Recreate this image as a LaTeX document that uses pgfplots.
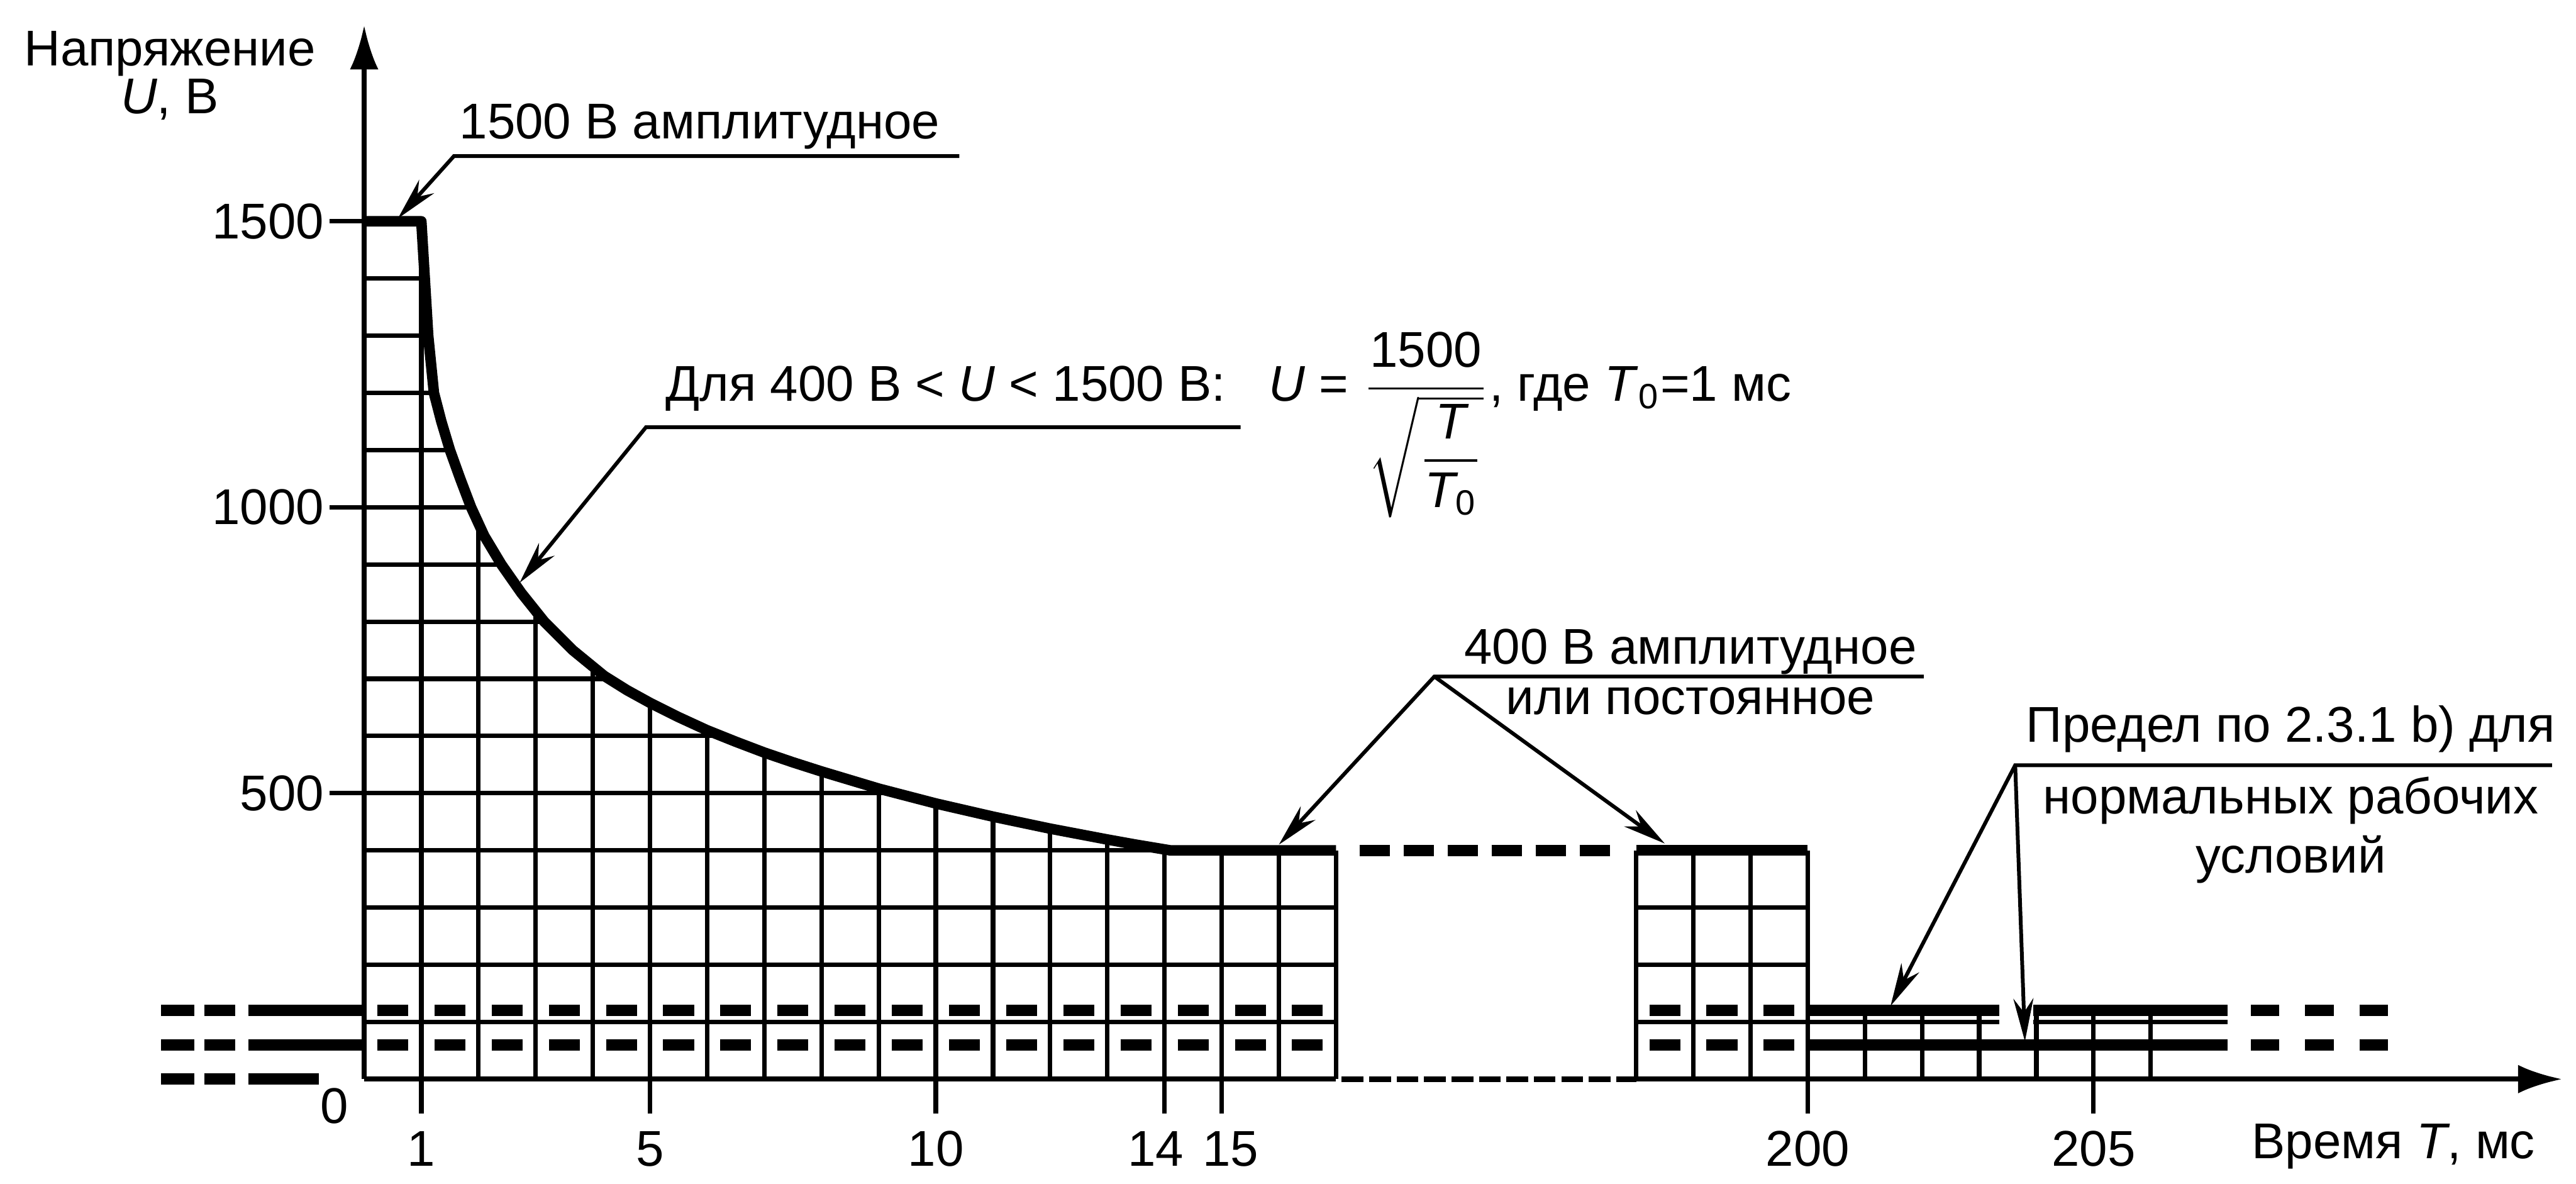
\documentclass[border=0pt]{standalone}
\usepackage{pgfplots}
\pgfplotsset{compat=1.18}
\usepackage{amsmath}
\usepackage{fontspec}
\setmainfont{Liberation Sans}
\usetikzlibrary{arrows.meta}
\newcommand{\fs}{\fontsize{10}{12}\selectfont}
\begin{document}
\begin{tikzpicture}
\begin{axis}[
  scale only axis, width=15.38cm, height=7.372cm,
  xmin=0, xmax=38.45, ymin=0, ymax=1843,
  enlargelimits=false, clip=false,
  axis lines=left,
  axis line style={line width=0.9pt},
  x axis line style={draw=none},
  y axis line style={-{Latex[length=3.1mm,width=2mm]}},
  xtick={1,5,10,14,15,25.25,30.25},
  xticklabels={1,5,10,{\hspace*{-3.5pt}14},{15\hspace*{-3.5pt}},200,205},
  ytick={500,1000,1500},
  yticklabels={500,1000,1500},
  tick align=outside,
  major tick length=0.24cm,
  tick style={line width=0.9pt, black},
  ticklabel style={font=\fs},
  yticklabel style={inner sep=1pt},
  unbounded coords=jump,
  grid/.style={line width=0.9pt, black},
  thk/.style={line width=2.1pt, black, line join=round},
  dsh/.style={line width=2.3pt, black, line cap=butt},
  lead/.style={line width=0.75pt, black},
  arr/.style={line width=0.75pt, black, -{Stealth[length=3mm,width=1.4mm]}},
]
% bounding box of the whole picture
\addplot[draw=none, forget plot] coordinates {(-6.37,-159) (38.69,1887)};

% x axis (solid, dashed gap, solid with arrow)
\addplot[line width=1pt] coordinates {(0,0) (17,0)};
\addplot[line width=1.2pt, dash pattern=on 0.152cm off 0.04cm] coordinates {(17.1,0) (22.25,0)};
\addplot[line width=1pt, -{Latex[length=3.1mm,width=2mm]}] coordinates {(22.25,0) (38.45,0)};

% block 1 grid
\addplot[grid] coordinates {
 (0,100)(17,100) (nan,nan)
 (0,200)(17,200) (nan,nan)
 (0,300)(17,300) (nan,nan)
 (0,400)(17,400) (nan,nan)
 (0,500)(9.31,500) (nan,nan)
 (0,600)(6.25,600) (nan,nan)
 (0,700)(4.28,700) (nan,nan)
 (0,800)(3.15,800) (nan,nan)
 (0,900)(2.4,900) (nan,nan)
 (0,1000)(1.87,1000) (nan,nan)
 (0,1100)(1.5,1100) (nan,nan)
 (0,1200)(1.22,1200) (nan,nan)
 (0,1300)(1.12,1300) (nan,nan)
 (0,1400)(1.06,1400) (nan,nan)
 (1,0)(1,1500) (nan,nan)
 (2,0)(2,972) (nan,nan)
 (3,0)(3,819) (nan,nan)
 (4,0)(4,721) (nan,nan)
 (5,0)(5,658) (nan,nan)
 (6,0)(6,610) (nan,nan)
 (7,0)(7,571) (nan,nan)
 (8,0)(8,538) (nan,nan)
 (9,0)(9,508) (nan,nan)
 (10,0)(10,482) (nan,nan)
 (11,0)(11,459) (nan,nan)
 (12,0)(12,438) (nan,nan)
 (13,0)(13,419) (nan,nan)
 (14,0)(14,402) (nan,nan)
 (15,0)(15,400) (nan,nan)
 (16,0)(16,400) (nan,nan)
 (17,0)(17,400)
};
% boundary curve
\addplot[thk] coordinates {
 (0,1500)(1,1500)(1.03,1450)(1.06,1400)(1.12,1300)(1.22,1200)(1.35,1150)(1.5,1100)
 (1.68,1050)(1.87,1000)(2.1,950)(2.4,900)(2.75,850)(3.15,800)(3.65,750)(4.2,705)
 (4.6,680)(5,658)(5.5,633)(6,610)(6.5,590)(7,571)(7.5,554)(8,538)(9,508)(10,482)
 (11,459)(12,438)(13,419)(13.5,410)(14.1,400)(17,400)
};
% inner dashes block 1
\addplot[dsh, dash pattern=on 0.216cm off 0.184cm] coordinates {(0.23,120) (16.77,120)};
\addplot[dsh, dash pattern=on 0.216cm off 0.184cm] coordinates {(0.23,60) (16.77,60)};
% gap: dashed 400 level
\addplot[dsh, dash pattern=on 0.212cm off 0.096cm] coordinates {(17.41,400) (21.8,400)};

% block 2
\addplot[grid] coordinates {
 (22.25,0)(22.25,400) (nan,nan)
 (23.25,0)(23.25,400) (nan,nan)
 (24.25,0)(24.25,400) (nan,nan)
 (25.25,0)(25.25,400) (nan,nan)
 (22.25,100)(25.25,100) (nan,nan)
 (22.25,200)(25.25,200) (nan,nan)
 (22.25,300)(25.25,300)
};
\addplot[thk] coordinates {(22.25,400) (25.25,400)};
\addplot[dsh, dash pattern=on 0.216cm off 0.184cm] coordinates {(22.48,120) (25.02,120)};
\addplot[dsh, dash pattern=on 0.216cm off 0.184cm] coordinates {(22.48,60) (25.02,60)};

% region 3
\addplot[grid] coordinates {
 (26.25,0)(26.25,120) (nan,nan)
 (27.25,0)(27.25,120) (nan,nan)
 (28.25,0)(28.25,120) (nan,nan)
 (29.25,0)(29.25,120) (nan,nan)
 (30.25,0)(30.25,120) (nan,nan)
 (31.25,0)(31.25,120) (nan,nan)
 (25.25,100)(28.6,100) (nan,nan)
 (29.2,100)(32.6,100)
};
\addplot[dsh] coordinates {(25.25,120)(28.6,120) (nan,nan) (29.2,120)(32.6,120)};
\addplot[dsh] coordinates {(25.25,60)(32.6,60)};
\addplot[dsh, dash pattern=on 0.2cm off 0.18cm] coordinates {(33.0,120) (35.4,120)};
\addplot[dsh, dash pattern=on 0.2cm off 0.18cm] coordinates {(33.0,60) (35.4,60)};

% left dashes
\addplot[dsh] coordinates {
 (-3.55,120)(-2.97,120) (nan,nan) (-2.8,120)(-2.26,120) (nan,nan) (-2.03,120)(0,120) (nan,nan)
 (-3.55,60)(-2.97,60) (nan,nan) (-2.8,60)(-2.26,60) (nan,nan) (-2.03,60)(0,60) (nan,nan)
 (-3.55,0)(-2.97,0) (nan,nan) (-2.8,0)(-2.26,0) (nan,nan) (-2.03,0)(-0.79,0)
};

% leaders
\addplot[arr] coordinates {(10.41,1614)(1.57,1614)(0.59,1505)};
\addplot[arr] coordinates {(15.33,1140)(4.93,1140)(2.72,868)};
\addplot[arr] coordinates {(27.28,704)(18.72,704)(16.0,410)};
\addplot[arr] coordinates {(18.72,704)(22.75,412)};
\addplot[arr] coordinates {(38.27,549)(28.88,549)(26.7,128)};
\addplot[arr] coordinates {(28.88,549)(29.05,66)};

% texts
\node[anchor=base, font=\fs] at (axis cs:-3.4,1772) {Напряжение};
\node[anchor=base, font=\fs] at (axis cs:-3.4,1688) {\textit{U}, В};
\node[font=\fs] at (axis cs:-0.52,-47) {0};
\node[anchor=base west, font=\fs, inner sep=0pt] at (axis cs:1.65,1644) {1500 В амплитудное};
\node[anchor=base west, font=\fs, inner sep=0pt] at (axis cs:5.26,1186)
  {Для 400 В < \textit{U} < 1500 В:\hspace{0.3cm}\textit{U} = $\dfrac{\text{1500}}{\sqrt{\dfrac{\text{\itshape T}}{\text{\itshape T}_{\text{0}}}}}$, где \textit{T}\textsubscript{0}=1 мс};
\node[anchor=base, font=\fs, inner sep=0pt] at (axis cs:23.2,726) {400 В амплитудное};
\node[anchor=base, font=\fs, inner sep=0pt] at (axis cs:23.2,638) {или постоянное};
\node[anchor=base, font=\fs, inner sep=0pt] at (axis cs:33.7,589) {Предел по 2.3.1 b) для};
\node[anchor=base, font=\fs, inner sep=0pt] at (axis cs:33.7,464) {нормальных рабочих};
\node[anchor=base, font=\fs, inner sep=0pt] at (axis cs:33.7,361) {условий};
\node[anchor=base west, font=\fs, inner sep=0pt] at (axis cs:33.0,-139) {Время \textit{T}, мс};
\end{axis}
\end{tikzpicture}
\end{document}
